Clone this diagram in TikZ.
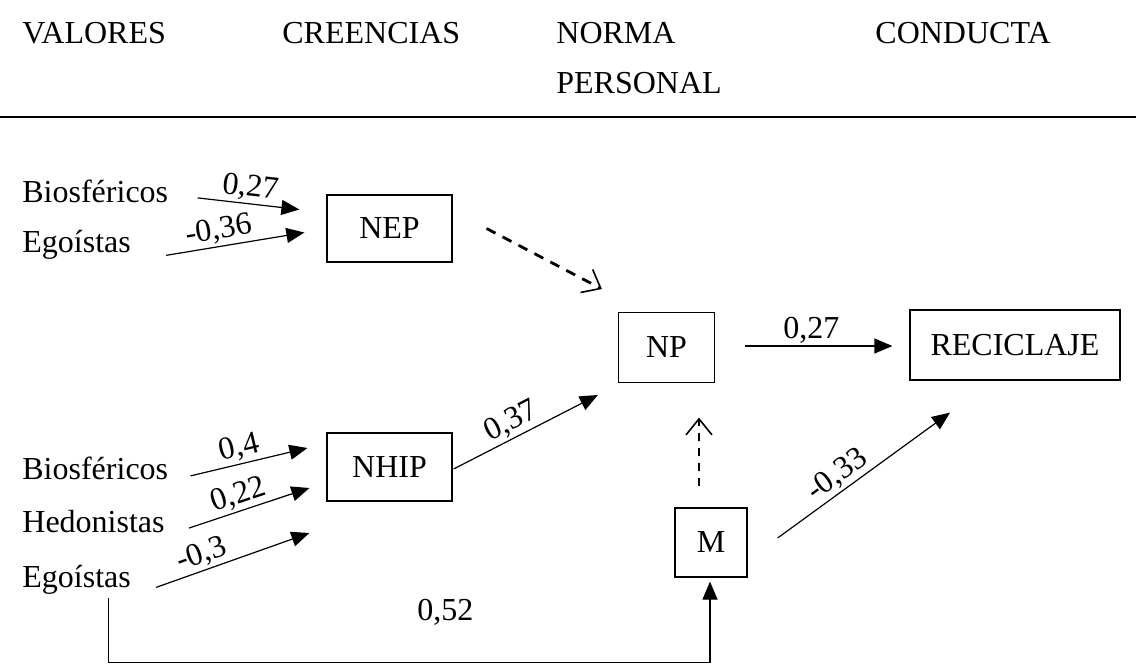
\documentclass[tikz,border=0pt]{standalone}
\usepackage{fontspec}
\setmainfont{Liberation Serif}
\usetikzlibrary{arrows.meta}

\tikzset{
  txt/.style = {inner sep=0pt, font=\fontsize{16}{19}\selectfont},
  box/.style = {draw, line width=0.6pt, inner sep=0pt, font=\fontsize{16}{19}\selectfont},
  coef/.style = {inner sep=0.5pt, sloped, above=0.5pt, font=\fontsize{16}{19}\selectfont},
  arr/.style = {line width=0.6pt, -{Triangle[length=9pt,width=7.5pt]}},
  dasharr/.style = {line width=1.4pt, dash pattern=on 5pt off 4pt,
    -{Straight Barb[length=8pt,width=13pt,line width=0.8pt]}}
}

\begin{document}
\begin{tikzpicture}[x=0.5pt, y=-0.5pt]
    \useasboundingbox (0,0) rectangle (1136,671);

    % Header
    \foreach \x/\n/\t in {22/valores/VALORES, 282/creencias/CREENCIAS,
                          556/norma/NORMA, 875/conducta/CONDUCTA}
        \node[txt, anchor=base west] (\n) at (\x,43) {\t};
    \node[txt, anchor=base west] (personal) at (556,93) {PERSONAL};
    \draw[line width=1pt] (0,117) -- (1136,117);

    % Values
    \node[txt, anchor=base west] (bioA) at (22,202) {Biosféricos};
    \node[txt, anchor=base west] (egoA) at (22,252) {Egoístas};
    \node[txt, anchor=base west] (bioB) at (22,479) {Biosféricos};
    \node[txt, anchor=base west] (hed)  at (22,532) {Hedonistas};
    \node[txt, anchor=base west] (egoB) at (22,587) {Egoístas};

    % Boxes
    \node[box, minimum width=62.5pt, minimum height=33.5pt] (nep)   at (389.5,228.5) {NEP};
    \node[box, minimum width=62.5pt, minimum height=34pt]   (nhip)  at (389.5,467)   {NHIP};
    \node[box, minimum width=48pt,   minimum height=35pt]   (np)    at (666.5,347.5) {NP};
    \node[box, minimum width=105pt,  minimum height=35pt]   (recic) at (1015,345)    {RECICLAJE};
    \node[box, minimum width=36pt,   minimum height=34.5pt] (m)     at (711,542.5)   {M};

    % Arrows
    \draw[arr] ([shift={(29,7)}]bioA.east) -- node[coef, pos=0.5] {0,27} ([shift={(-27,-19)}]nep.west);
    \draw[arr] ([shift={(35,11)}]egoA.east) -- node[coef, pos=0.4] {-0,36} ([shift={(-22,4)}]nep.west);
    \draw[arr] ([shift={(22,8)}]bioB.east) -- node[coef, pos=0.45] {0,4} ([shift={(-19,-19)}]nhip.west);
    \draw[arr] ([shift={(24,7)}]hed.east) -- node[coef, pos=0.45] {0,22} ([shift={(-17,21)}]nhip.west);
    \draw[arr] ([shift={(25,8)}]egoB.east) -- node[coef, pos=0.33] {-0,3} ([shift={(-17,66)}]nhip.west);
    \draw[arr] ([shift={(1,2)}]nhip.east) -- node[coef, pos=0.45] {0,37} ([shift={(-20,47.5)}]np.west);
    \draw[arr] ([shift={(30,-1.5)}]np.east) -- node[coef, pos=0.45] {0,27} ([shift={(-17,1)}]recic.west);
    \draw[arr] ([shift={(30,-4.5)}]m.east) -- node[coef, pos=0.4] {-0,33} ([shift={(-65,32)}]recic.south);
    \draw[arr] ([shift={(32,4)}]egoB.south) -- ++(0,64)
        -| node[txt, pos=0.28, above=18pt] {0,52} ([shift={(-1,4)}]m.south);

    % Dashed links
    \draw[dasharr] ([shift={(34,0)}]nep.east) -- ([shift={(-16,-58.5)}]np.west);
    \draw[dasharr, dash pattern=on 4pt off 3.5pt] ([shift={(-12,-21)}]m.north) -- ([shift={(32.5,34.5)}]np.south);

\end{tikzpicture}
\end{document}
